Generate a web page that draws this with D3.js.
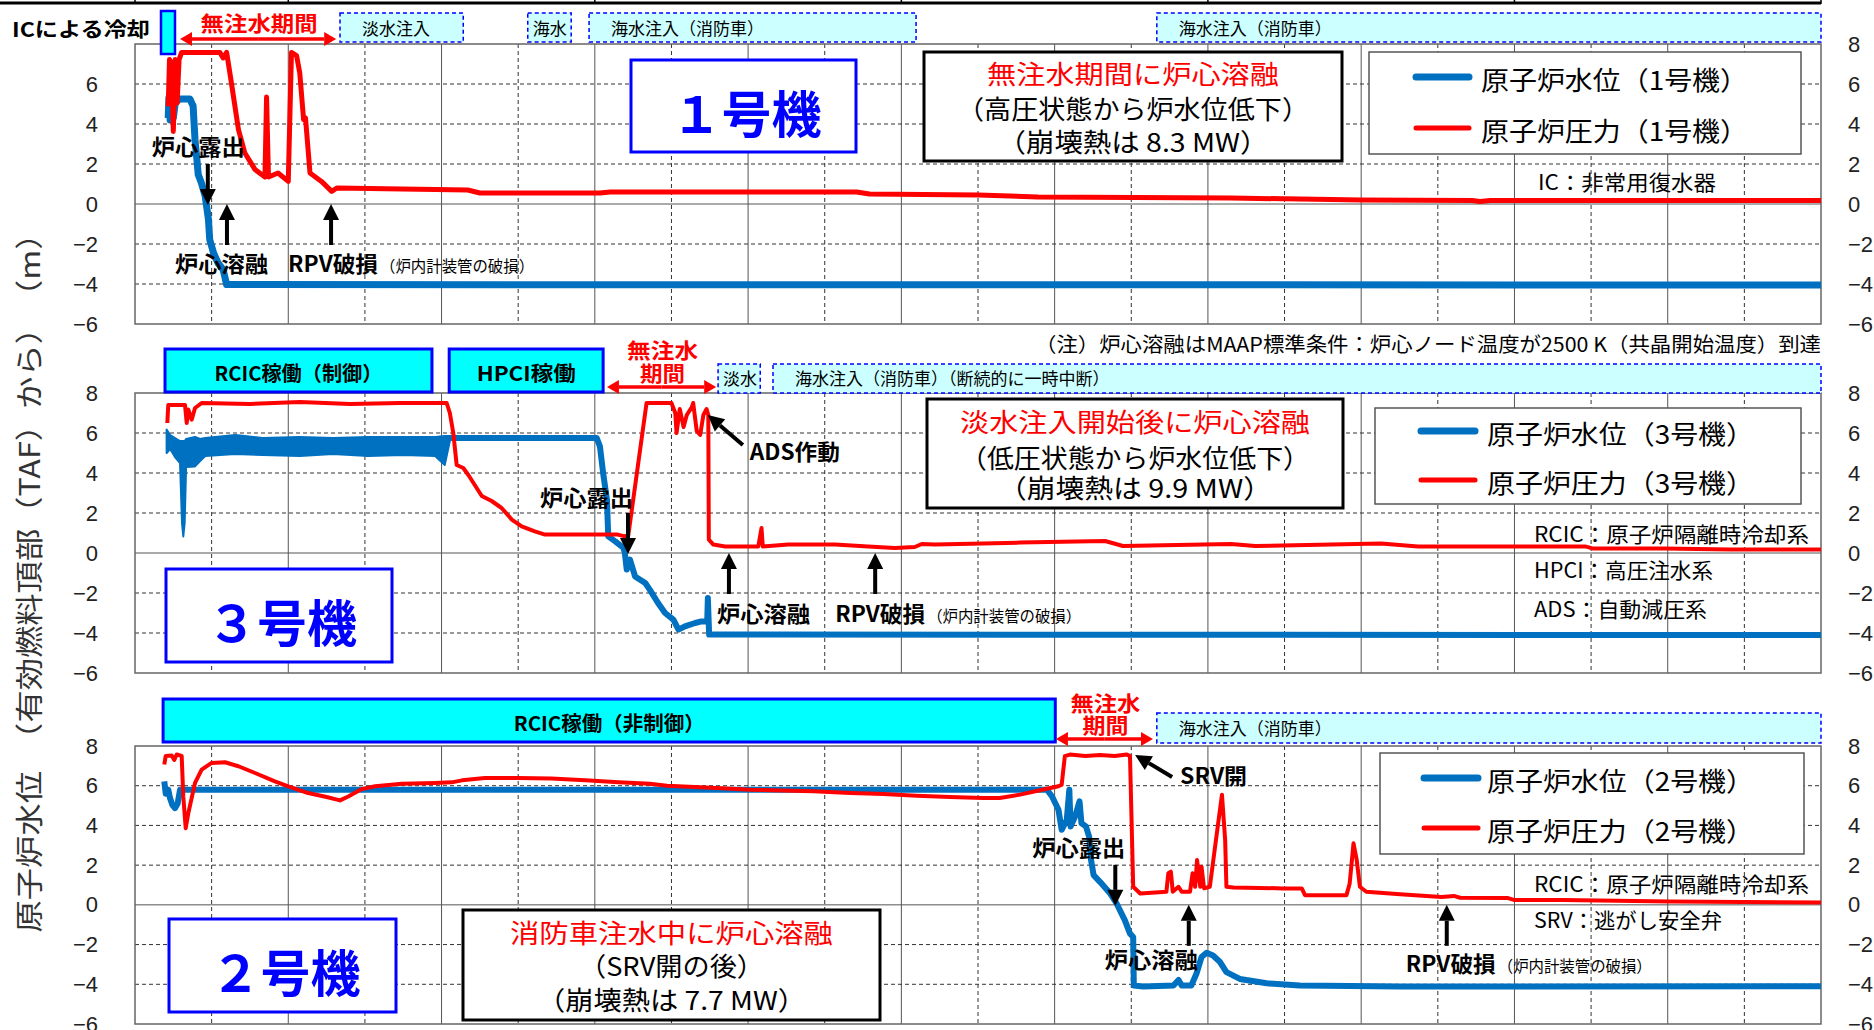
<!DOCTYPE html>
<html>
<head>
<meta charset="utf-8">
<script src="https://cdn.jsdelivr.net/npm/d3@7"></script>
<style>
body { margin: 0; background: #fff; }
</style>
</head>
<body>
<div id="chart-area"></div>
<script>

// SVG size
var width = 1874,
	height = 1030;

var CJK = '"Noto Sans CJK JP", "Noto Sans", sans-serif';
var NUM = '"Liberation Sans", Arial, sans-serif';

// time axis (hours), grid every 12 h, solid every 24 h
var hourDomain = [0, 264];
var gridHours = d3.range(0, 265, 12);
var topTicks = [0, 24, 72, 120, 168, 216, 264];
var levelTicks = [-6, -4, -2, 0, 2, 4, 6, 8];

// ---- Unit 1 : [hour, value] ----
var wl1 = [[5.2,4.3],[5.3,5.3],[5.5,4.2],[5.7,4.95],[6.0,4.3],[6.3,5.05],[6.6,5.15],[7.0,5.25],[8.6,5.25],[9.1,4.9],
	[9.4,3.2],[9.7,2.2],[9.9,1.47],[10.4,1.05],[11.0,0.38],[11.5,-0.78],[11.7,-1.78],[12.3,-2.45],[13.0,-2.95],
	[13.8,-3.28],[14.35,-4.03],[264,-4.05]];
var pr1 = [[5.2,4.88],[5.4,7.22],[5.7,7.05],[6.0,3.63],[6.3,7.22],[6.6,5.05],[6.9,7.22],[7.3,7.58],[13.3,7.58],
	[13.8,7.3],[14.35,7.58],[15.1,6.05],[16.2,3.72],[17.2,2.55],[18.8,1.72],[20.35,1.35],[20.6,5.35],[20.9,1.35],
	[22.4,1.55],[24.0,1.13],[24.5,7.58],[25.3,7.42],[25.8,6.55],[26.4,4.22],[26.7,4.3],[27.4,1.55],[29.2,1.13],
	[30.8,0.63],[31.6,0.8],[52.1,0.7],[54.0,0.55],[72.8,0.55],[74.4,0.6],[113,0.6],[115,0.5],[132,0.45],
	[141.4,0.35],[171.6,0.3],[192,0.2],[209.4,0.17],[210.6,0.12],[212.2,0.17],[264,0.18]];

// ---- Unit 3 ----
// noisy RCIC period as a band: [hour, low, high]
var wl3Band = [[4.95,5.0,6.17],[5.5,5.2,5.9],[6.26,4.8,5.75],[7.05,4.5,5.6],[7.36,1.5,5.6],[7.56,0.83,5.6],
	[7.78,1.5,5.6],[8.0,4.3,5.7],[9.4,4.33,5.8],[10.2,4.6,5.7],[11.0,4.85,5.75],[15.7,4.95,5.9],[20,4.9,5.75],
	[25.8,4.85,5.8],[31,4.95,5.75],[36.5,4.85,5.8],[42,4.9,5.8],[47.0,4.85,5.8],[48.5,4.4,5.85],[49.3,5.6,5.85]];
var wl3 = [[49.3,5.75],[72.3,5.75],[72.8,5.33],[73.3,4.0],[73.9,2.67],[74.1,0.83],[75.2,0.58],[76.5,0.25],
	[76.7,0.0],[77.0,-0.83],[77.5,-0.33],[78.3,-1.17],[79.9,-1.5],[80.6,-1.83],[81.9,-2.5],[83.0,-3.0],
	[84.3,-3.33],[85.1,-3.83],[86.1,-3.67],[87.7,-3.5],[88.7,-3.42],[89.6,-3.42],[89.7,-2.25],[89.9,-4.08],[264,-4.1]];
var pr3 = [[5.06,6.5],[5.21,7.4],[7.83,7.4],[8.1,6.5],[8.35,7.17],[8.88,6.67],[9.4,7.25],[10.44,7.5],[18,7.45],
	[25.8,7.55],[33.7,7.45],[41.5,7.5],[48.8,7.5],[49.3,7.0],[49.84,6.0],[50.37,4.4],[51.4,4.25],[52.2,3.9],
	[54.3,2.85],[55.85,2.6],[57.4,2.25],[59.0,1.67],[60.55,1.33],[62.6,1.08],[64.2,0.92],[75.6,0.92],[76.7,0.83],
	[77.25,0.9],[80.1,7.5],[84.0,7.5],[84.6,7.0],[84.8,6.0],[85.3,7.2],[85.9,6.3],[86.4,6.9],[87.2,7.3],[87.4,7.5],
	[87.96,6.1],[88.5,5.9],[89.0,6.9],[89.5,7.2],[89.77,6.9],[89.85,0.67],[90.56,0.42],[92.4,0.33],[97.6,0.33],
	[98.1,1.25],[98.3,0.33],[102.3,0.42],[109.6,0.42],[114.8,0.33],[119.0,0.25],[122.1,0.3],[123.2,0.45],
	[125.3,0.42],[138.6,0.52],[151.9,0.6],[154.7,0.35],[171.6,0.45],[175.4,0.35],[195.1,0.48],[200.9,0.33],
	[227.2,0.32],[228.2,0.23],[239.4,0.23],[249.9,0.18],[264,0.18]];

// ---- Unit 2 ----
var wl2 = [[4.59,6.22],[4.81,5.6],[5.21,5.8],[5.48,5.38],[5.84,5.04],[6.26,4.87],[6.68,5.1],[7.05,5.8],
	[142.8,5.8],[143.6,5.46],[144.6,4.79],[145.1,3.78],[145.9,4.28],[146.3,5.8],[146.5,3.95],[147.2,4.45],
	[147.9,5.21],[148.2,4.11],[148.9,3.95],[149.4,3.44],[149.7,2.26],[150.1,1.5],[151.1,1.16],[152.7,0.57],
	[153.7,0.07],[155.0,-0.78],[155.8,-1.45],[156.3,-1.62],[156.4,-4.06],[157.9,-4.11],[162.6,-4.06],
	[163.4,-3.78],[163.9,-4.06],[165.4,-4.06],[166.2,-3.47],[167.0,-2.63],[167.8,-2.41],[168.8,-2.55],
	[169.9,-2.88],[170.9,-3.39],[173.0,-3.73],[177.2,-3.95],[182.4,-4.06],[198.1,-4.11],[264,-4.1]];
var pr2 = [[4.59,7.07],[4.81,7.5],[5.75,7.52],[6.15,7.3],[6.53,7.57],[7.31,7.5],[7.56,5.46],[7.94,3.86],
	[8.35,4.62],[9.4,6.14],[10.44,6.81],[12.0,7.15],[14.1,7.18],[16.2,6.98],[18.8,6.64],[21.9,6.22],[24.0,5.97],
	[27.1,5.63],[30.0,5.43],[32.1,5.26],[33.4,5.46],[35.5,5.83],[37.6,5.97],[41.8,6.1],[47.0,6.14],[49.6,6.17],
	[51.2,6.27],[54.8,6.39],[60.0,6.39],[65.2,6.36],[70.5,6.27],[75.7,6.17],[80.6,6.1],[83.3,6.0],[91.1,5.89],
	[96.3,5.8],[106.2,5.72],[112.0,5.63],[117.2,5.58],[122.4,5.5],[127.6,5.43],[132.8,5.38],[135.4,5.38],
	[138.6,5.55],[141.7,5.77],[144.6,5.97],[145.1,6.05],[145.6,7.49],[146.4,7.57],[148.8,7.5],[151.1,7.55],
	[153.4,7.5],[155.3,7.57],[155.8,7.49],[156.3,0.91],[157.4,0.57],[161.5,0.66],[161.8,1.59],[162.2,1.67],
	[162.5,0.66],[163.4,0.91],[163.9,0.66],[165.2,0.66],[165.6,1.59],[166.0,0.91],[166.3,2.26],[166.8,0.91],
	[167.0,1.92],[167.4,0.83],[168.3,0.91],[169.4,3.61],[170.2,5.55],[170.7,3.27],[170.9,0.91],[172.0,0.88],
	[179.8,0.83],[182.7,0.83],[183.2,0.49],[189.7,0.49],[190.2,1.08],[190.8,3.1],[191.3,2.26],[191.8,0.91],
	[192.8,0.66],[198.1,0.54],[204.6,0.39],[206.5,0.45],[207.5,0.36],[215.0,0.34],[215.9,0.25],[223.5,0.25],
	[240.4,0.17],[264,0.12]];

// operation bands [start hour, end hour, label]
var icBand1 = [4.07, 6.26];
var bands1 = [[32.1, 51.4, "淡水注入"], [61.5, 68.3, "海水"], [71.1, 122.3, "海水注入（消防車）"], [160.0, 264, "海水注入（消防車）"]];
var noInj1 = [7.05, 31.5];
var ops3 = [[4.7, 46.5, "RCIC稼働（制御）"], [49.2, 73.3, "HPCI稼働"]];
var bands3 = [[91.3, 97.9, "淡水"], [99.9, 264, "海水注入（消防車）（断続的に一時中断）"]];
var noInj3 = [73.9, 91.0];
var ops2 = [[4.4, 144.1, "RCIC稼働（非制御）"]];
var bands2 = [[160.0, 264, "海水注入（消防車）"]];
var noInj2 = [144.2, 159.4];

// event times (hours): core exposure, core melt, RPV damage
var events1 = [11.4, 14.4, 30.7];
var events3 = [77.2, 93.0, 115.9];
var events2 = [153.5, 165.0, 205.4];
var ads3 = [89.7, 6.9];
var srv2 = [156.6, 7.55];


var svg = d3.select("#chart-area")
	.append("svg")
	.attr("width", width)
	.attr("height", height);

var x = d3.scaleLinear().domain(hourDomain).range([135, 1821]);

var blue = "#0070C0", red = "#FF0000";

function label(g, px, py, s, o) {
	var t = g.append("text")
		.attr("x", px).attr("y", py)
		.attr("font-family", o.ff || CJK)
		.attr("font-size", o.size)
		.attr("font-weight", o.bold ? "bold" : "normal")
		.attr("fill", o.color || "#000")
		.attr("text-anchor", o.anchor || "start")
		.text(s);
	if (o.base) t.attr("dominant-baseline", o.base);
	if (o.len) t.attr("textLength", o.len).attr("lengthAdjust", "spacingAndGlyphs");
	return t;
}

function arrow(g, x1, y1, x2, y2, color, w, hl, hw) {
	var dx = x2 - x1, dy = y2 - y1, len = Math.sqrt(dx * dx + dy * dy);
	var ux = dx / len, uy = dy / len;
	var bx = x2 - ux * hl, by = y2 - uy * hl;
	g.append("line").attr("x1", x1).attr("y1", y1).attr("x2", bx).attr("y2", by)
		.attr("stroke", color).attr("stroke-width", w);
	g.append("path")
		.attr("d", "M" + x2 + "," + y2 + "L" + (bx - uy * hw) + "," + (by + ux * hw) + "L" + (bx + uy * hw) + "," + (by - ux * hw) + "Z")
		.attr("fill", color);
}

function drawFrame(y, leftTicks) {
	var g = svg.append("g");
	var top = y(8), bot = y(-6);
	g.selectAll(".vg").data(gridHours.slice(1, -1)).enter()
		.append("line")
		.attr("x1", function (d) { return x(d); }).attr("x2", function (d) { return x(d); })
		.attr("y1", top).attr("y2", bot)
		.attr("stroke", function (d) { return d % 24 == 0 ? "#555" : "#333"; })
		.attr("stroke-width", 1)
		.attr("stroke-dasharray", function (d) { return d % 24 == 0 ? null : "4,3"; });
	g.selectAll(".hg").data([-4, -2, 0, 2, 4, 6]).enter()
		.append("line")
		.attr("x1", x(0)).attr("x2", x(264))
		.attr("y1", function (d) { return y(d); }).attr("y2", function (d) { return y(d); })
		.attr("stroke", function (d) { return d == 0 ? "#555" : "#333"; })
		.attr("stroke-width", 1)
		.attr("stroke-dasharray", function (d) { return d == 0 ? null : "4,3"; });
	g.append("rect").attr("x", x(0)).attr("y", top).attr("width", x(264) - x(0)).attr("height", bot - top)
		.attr("fill", "none").attr("stroke", "#666").attr("stroke-width", 1.5);

	var left = svg.append("g").attr("transform", "translate(" + x(0) + ",0)")
		.call(d3.axisLeft(y).tickValues(leftTicks).tickSize(0).tickPadding(37).tickFormat(d3.format("d")));
	var right = svg.append("g").attr("transform", "translate(" + x(264) + ",0)")
		.call(d3.axisRight(y).tickValues(levelTicks).tickSize(0).tickPadding(27).tickFormat(d3.format("d")));
	[left, right].forEach(function (a) {
		a.select(".domain").remove();
		a.selectAll("text").attr("font-family", NUM).attr("font-size", 22).attr("fill", "#222");
	});
}

function drawSeries(y, wl, pr, wlW, prW) {
	var line = d3.line().x(function (d) { return x(d[0]); }).y(function (d) { return y(d[1]); });
	svg.append("path").datum(wl).attr("d", line).attr("fill", "none")
		.attr("stroke", blue).attr("stroke-width", wlW).attr("stroke-linejoin", "round");
	svg.append("path").datum(pr).attr("d", line).attr("fill", "none")
		.attr("stroke", red).attr("stroke-width", prW).attr("stroke-linejoin", "round");
}

function dashedBands(list, y0, y1, baseline) {
	list.forEach(function (b) {
		var w = x(b[1]) - x(b[0]);
		svg.append("rect").attr("x", x(b[0])).attr("y", y0).attr("width", w).attr("height", y1 - y0)
			.attr("fill", "#CCFFFF").attr("stroke", "#0000FF").attr("stroke-width", 1.5).attr("stroke-dasharray", "4,3");
		label(svg, x(b[0]) + (w < 60 ? 5 : 22), baseline, b[2], {size: 17});
	});
}

function cyanBands(list, y0, y1, lens) {
	list.forEach(function (b, i) {
		svg.append("rect").attr("x", x(b[0])).attr("y", y0).attr("width", x(b[1]) - x(b[0])).attr("height", y1 - y0)
			.attr("fill", "#00FFFF").attr("stroke", "#0000FF").attr("stroke-width", 3);
		label(svg, (x(b[0]) + x(b[1])) / 2, (y0 + y1) / 2 + 2, b[2], {size: 20, bold: true, anchor: "middle", base: "central", len: lens[i]});
	});
}

function noInjection(r, ay, lines) {
	var m = (x(r[0]) + x(r[1])) / 2;
	arrow(svg, m, ay, x(r[0]), ay, red, 3.5, 12, 7);
	arrow(svg, m, ay, x(r[1]), ay, red, 3.5, 12, 7);
	lines.forEach(function (l) {
		label(svg, m + 1, l[1], l[0], {size: 21, bold: true, color: red, anchor: "middle", len: l[2]});
	});
}

function unitBox(bx, by, bw, bh, s) {
	svg.append("rect").attr("x", bx).attr("y", by).attr("width", bw).attr("height", bh)
		.attr("fill", "#fff").attr("stroke", "#0000FF").attr("stroke-width", 3);
	label(svg, bx + bw / 2 + 3, by + bh * 0.79, s, {size: 50, bold: true, color: "#0000FF", anchor: "middle", len: 150});
}

function noteBox(bx, by, bw, bh, lines) {
	svg.append("rect").attr("x", bx).attr("y", by).attr("width", bw).attr("height", bh)
		.attr("fill", "#fff").attr("stroke", "#000").attr("stroke-width", 3);
	lines.forEach(function (l, i) {
		label(svg, bx + bw / 2, l[1], l[0], {size: 26, color: i == 0 ? red : "#000", anchor: "middle", len: l[2]});
	});
}

function legendBox(bx, by, bw, bh, lx1, lx2, tx, rows) {
	svg.append("rect").attr("x", bx).attr("y", by).attr("width", bw).attr("height", bh)
		.attr("fill", "#fff").attr("stroke", "#555").attr("stroke-width", 1.5);
	rows.forEach(function (r) {
		svg.append("line").attr("x1", lx1).attr("x2", lx2).attr("y1", r[1]).attr("y2", r[1])
			.attr("stroke", r[2]).attr("stroke-width", r[3]).attr("stroke-linecap", "round");
		label(svg, tx, r[1] + 1, r[0], {size: 26, base: "central", len: 267});
	});
}

function eventMarks(y, ev, offs) {
	var y0 = y(0);
	// core exposure: down arrow
	arrow(svg, x(ev[0]), y0 - 40, x(ev[0]), y0 + 1, "#000", 4, 16, 8);
	label(svg, x(ev[0]) + offs[0], y0 - offs[1], "炉心露出", {size: 22, bold: true, len: 93});
	// core melt: up arrow
	arrow(svg, x(ev[1]), y0 + 41, x(ev[1]), y0, "#000", 4, 16, 8);
	label(svg, x(ev[1]) + offs[2], y0 + offs[3], "炉心溶融", {size: 22, bold: true, len: 93});
	// RPV damage: up arrow
	arrow(svg, x(ev[2]), y0 + 41, x(ev[2]), y0, "#000", 4, 16, 8);
	label(svg, x(ev[2]) + offs[4], y0 + offs[5], "RPV破損", {size: 22, bold: true, len: 90});
	label(svg, x(ev[2]) + offs[4] + 92, y0 + offs[5], "（炉内計装管の破損）", {size: 16, len: 154});
}


// ---- top axis stub ----
svg.append("line").attr("x1", 0).attr("x2", x(264)).attr("y1", 3).attr("y2", 3)
	.attr("stroke", "#000").attr("stroke-width", 3);
svg.selectAll(".tt").data(topTicks).enter().append("line")
	.attr("x1", function (d) { return x(d); }).attr("x2", function (d) { return x(d); })
	.attr("y1", 0).attr("y2", 4).attr("stroke", "#000").attr("stroke-width", 1.5);

// ---- y axis title ----
label(svg, 0, 0, "原子炉水位　（有効燃料頂部（TAF）から）　（m）", {size: 28, color: "#333", anchor: "middle", base: "central", len: 715})
	.attr("transform", "translate(28,575) rotate(-90)");


// ================= Unit 1 =================
var y1 = d3.scaleLinear().domain([-6, 8]).range([324, 44]);
drawFrame(y1, levelTicks.slice(0, -1));
drawSeries(y1, wl1, pr1, 7, 5);
dashedBands(bands1, 13, 42, 35);
svg.append("rect").attr("x", x(icBand1[0])).attr("y", 11).attr("width", x(icBand1[1]) - x(icBand1[0])).attr("height", 43)
	.attr("fill", "#00FFFF").attr("stroke", "#0000FF").attr("stroke-width", 2.5);
label(svg, 12, 37, "ICによる冷却", {size: 20, bold: true, len: 138});
noInjection(noInj1, 39, [["無注水期間", 31, 117]]);
unitBox(631, 60, 225, 92, "１号機");
noteBox(924, 52, 418, 109, [["無注水期間に炉心溶融", 84, 292], ["（高圧状態から炉水位低下）", 119, 352], ["（崩壊熱は 8.3 MW）", 152, 271]]);
legendBox(1369, 52, 432, 102, 1416, 1469, 1481, [["原子炉水位（1号機）", 77, blue, 7], ["原子炉圧力（1号機）", 128, red, 5]]);
label(svg, 1538, 190, "IC：非常用復水器", {size: 21, len: 178});
eventMarks(y1, events1, [-56, 49, -52, 68, -43, 68]);


// ================= Unit 3 =================
var y3 = d3.scaleLinear().domain([-6, 8]).range([673, 393]);
drawFrame(y3, levelTicks);
svg.append("path").datum(wl3Band)
	.attr("d", d3.area().x(function (d) { return x(d[0]); }).y0(function (d) { return y3(d[1]); }).y1(function (d) { return y3(d[2]); }))
	.attr("fill", blue).attr("stroke", blue).attr("stroke-width", 2).attr("stroke-linejoin", "round");
drawSeries(y3, wl3, pr3, 6, 4);
cyanBands(ops3, 349, 392, [168, 99]);
dashedBands(bands3, 364, 393, 385);
noInjection(noInj3, 387, [["無注水", 358, 71], ["期間", 381, 45]]);
label(svg, 1821, 352, "（注）炉心溶融はMAAP標準条件：炉心ノード温度が2500 K（共晶開始温度）到達", {size: 20, anchor: "end", len: 786});
unitBox(166, 569, 226, 93, "３号機");
noteBox(927, 399, 416, 109, [["淡水注入開始後に炉心溶融", 432, 350], ["（低圧状態から炉水位低下）", 468, 350], ["（崩壊熱は 9.9 MW）", 498, 274]]);
legendBox(1375, 408, 426, 96, 1421, 1475, 1487, [["原子炉水位（3号機）", 431, blue, 7], ["原子炉圧力（3号機）", 480, red, 5]]);
label(svg, 1534, 542, "RCIC：原子炉隔離時冷却系", {size: 21, len: 275});
label(svg, 1534, 578, "HPCI：高圧注水系", {size: 21, len: 179});
label(svg, 1534, 617, "ADS：自動減圧系", {size: 21, len: 173});
eventMarks(y3, events3, [-88, 47, -12, 69, -40, 69]);
arrow(svg, x(ads3[0]) + 35, y3(ads3[1]) + 30, x(ads3[0]), y3(ads3[1]), "#000", 4, 16, 8);
label(svg, x(ads3[0]) + 42, y3(ads3[1]) + 45, "ADS作動", {size: 22, bold: true, len: 90});


// ================= Unit 2 =================
var y2 = d3.scaleLinear().domain([-6, 8]).range([1024, 746]);
drawFrame(y2, levelTicks);
drawSeries(y2, wl2, pr2, 6, 4);
cyanBands(ops2, 699, 742, [191]);
dashedBands(bands2, 713, 743, 735);
noInjection(noInj2, 739, [["無注水", 711, 70], ["期間", 733, 46]]);
unitBox(169, 919, 227, 93, "２号機");
noteBox(463, 910, 417, 110, [["消防車注水中に炉心溶融", 943, 323], ["（SRV開の後）", 976, 185], ["（崩壊熱は 7.7 MW）", 1010, 269]]);
legendBox(1380, 753, 424, 101, 1424, 1478, 1487, [["原子炉水位（2号機）", 778, blue, 7], ["原子炉圧力（2号機）", 828, red, 5]]);
label(svg, 1534, 892, "RCIC：原子炉隔離時冷却系", {size: 21, len: 275});
label(svg, 1534, 928, "SRV：逃がし安全弁", {size: 21, len: 188});
eventMarks(y2, events2, [-83, 49, -84, 63, -41, 67]);
arrow(svg, x(srv2[0]) + 37, y2(srv2[1]) + 22, x(srv2[0]), y2(srv2[1]), "#000", 4, 16, 8);
label(svg, x(srv2[0]) + 45, y2(srv2[1]) + 29, "SRV開", {size: 22, bold: true, len: 67});

</script>
</body>
</html>
